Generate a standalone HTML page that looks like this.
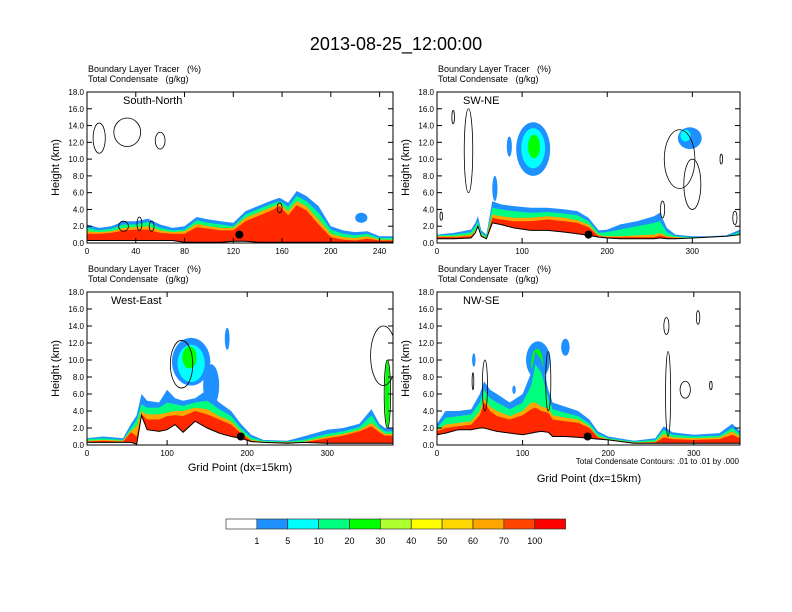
<!DOCTYPE html>
<html><head><meta charset="utf-8"><style>
body{margin:0;background:#fff}
svg{display:block;font-family:"Liberation Sans",Arial,sans-serif}
</style></head><body>
<svg id="c" width="792" height="612" viewBox="0 0 792 612">
<rect width="792" height="612" fill="#fff"/>
<text x="396" y="50" text-anchor="middle" font-size="18">2013-08-25_12:00:00</text>
</svg>
<script>
const C=['#ffffff','#1e90ff','#00ffff','#00ff7f','#00ff00','#adff2f','#ffff00','#ffd700','#ffa500','#ff4500','#ff0000'];
const cbLabels=['1','5','10','20','30','40','50','60','70','100'];
const panelNames=['South-North','SW-NE','West-East','NW-SE'];
const xMax=[251,356,382,354];
const xTicks=[[0,40,80,120,160,200,240],[0,100,200,300],[0,100,200,300],[0,100,200,300]];
const yTicks=[0,2,4,6,8,10,12,14,16,18];
const gx=[
[0,10,20,30,40,50,60,70,80,90,100,110,120,130,140,150,158,165,172,180,190,200,210,220,230,240,251],
[0,20,40,45,48,52,58,65,75,90,110,130,150,165,178,190,200,215,235,255,262,270,280,300,320,340,356],
[0,20,45,55,62,68,75,90,100,110,120,135,150,165,180,192,205,220,250,270,300,320,340,355,365,372,382],
[0,10,25,40,50,55,62,70,85,100,110,115,122,130,135,150,165,178,188,200,230,255,265,275,300,330,345,354]];
const terrain=[
[0.3,0.3,0.3,0.3,0.3,0.3,0.3,0.3,0.1,0.1,0.1,0.1,0.2,0.2,0.1,0.1,0.1,0.1,0.1,0.1,0.1,0.1,0.1,0.1,0.1,0.1,0.1],
[0.5,0.5,0.6,1.2,2.0,0.8,0.5,2.4,2.2,1.8,1.5,1.5,1.3,1.1,0.9,0.7,0.6,0.5,0.5,0.5,0.6,0.5,0.5,0.6,0.7,0.8,1.0],
[0.3,0.3,0.3,0.3,0.1,3.5,1.8,1.6,1.8,2.4,1.5,2.8,2.0,1.4,1.0,0.8,0.4,0.3,0.2,0.3,0.2,0.2,0.2,0.2,0.2,0.2,0.2],
[1.2,1.4,1.8,1.8,2.0,2.0,1.8,1.6,1.4,1.2,1.4,1.5,1.6,1.5,1.0,1.0,0.9,0.8,0.7,0.6,0.2,0.2,0.2,0.2,0.2,0.2,0.2,0.2]];
const lv1=[
[2.2,1.8,2.0,2.6,2.6,2.9,2.2,1.8,2.0,3.1,2.8,2.6,2.4,3.8,4.4,5.0,5.4,4.8,6.2,5.6,4.4,2.0,1.5,1.3,1.4,0.8,0.8],
[1.0,1.2,1.6,2.4,3.2,1.5,1.0,5.0,4.6,4.4,4.2,4.2,4.0,3.8,3.0,1.5,1.6,2.2,2.6,3.2,3.6,1.8,1.0,0.8,0.8,0.9,1.6],
[0.8,1.0,0.8,2.5,3.5,6.0,5.2,5.0,6.5,5.5,5.2,5.5,6.5,5.0,4.0,2.5,1.2,0.6,0.5,1.0,1.8,2.0,2.5,4.2,2.5,2.0,2.0],
[2.5,4.0,4.0,4.2,6.0,7.5,6.5,6.0,5.0,6.0,8.5,11.0,10.0,6.5,5.0,4.5,4.0,3.0,1.6,1.0,0.5,0.8,2.2,1.5,1.2,1.4,2.5,1.6]];
const lv10=[
[1.8,1.5,1.7,2.2,2.2,2.5,1.8,1.5,1.6,2.7,2.4,2.2,2.0,3.4,4.0,4.6,5.0,4.3,5.6,5.0,3.6,1.6,1.1,0.9,1.1,0.6,0.6],
[0.9,1.0,1.3,2.0,2.6,1.2,0.8,4.2,4.0,3.8,3.6,3.7,3.5,3.3,2.6,1.2,1.3,1.6,2.0,2.4,2.6,1.3,0.8,0.7,0.7,0.8,1.3],
[0.7,0.8,0.6,2.0,3.0,4.8,4.4,4.4,5.0,4.8,4.6,5.0,5.2,4.2,3.4,2.0,0.9,0.5,0.4,0.6,1.3,1.6,2.1,3.5,2.1,1.6,1.6],
[2.0,3.2,3.4,3.6,5.0,6.5,5.5,5.0,4.2,5.0,7.0,9.5,8.5,5.5,4.2,3.8,3.4,2.5,1.3,0.8,0.4,0.6,1.8,1.2,1.0,1.1,2.0,1.3]];
const lv40=[
[1.4,1.3,1.4,1.8,1.9,2.0,1.5,1.3,1.4,2.3,2.0,1.8,1.8,3.0,3.6,4.2,4.7,3.8,5.0,4.4,2.8,1.1,0.7,0.6,0.8,0.4,0.4],
[0.8,0.8,1.0,1.5,2.2,1.0,0.6,3.4,3.2,3.0,3.0,3.2,3.0,2.7,2.2,0.9,0.8,0.8,0.9,1.0,1.2,0.8,0.7,0.6,0.6,0.7,1.1],
[0.5,0.6,0.5,1.7,2.2,4.0,3.6,3.6,3.8,4.0,4.0,4.4,4.2,3.4,2.8,1.6,0.6,0.4,0.3,0.4,1.0,1.3,1.8,2.6,1.8,1.3,1.3],
[1.8,2.4,2.6,2.8,4.0,5.5,4.5,4.0,3.4,4.0,5.0,5.0,4.5,4.3,3.5,3.2,3.0,2.2,1.0,0.7,0.3,0.4,1.3,0.9,0.8,0.9,1.6,1.0]];
const lv70=[
[1.1,1.1,1.2,1.5,1.6,1.6,1.2,1.1,1.1,1.9,1.7,1.5,1.5,2.6,3.2,3.8,4.4,3.3,4.5,3.9,2.2,0.7,0.4,0.3,0.5,0.3,0.3],
[0.7,0.7,0.8,1.3,2.0,0.9,0.5,3.0,2.8,2.6,2.6,2.8,2.6,2.4,1.9,0.8,0.7,0.7,0.7,0.7,0.9,0.7,0.6,0.6,0.6,0.6,1.0],
[0.4,0.5,0.4,1.5,1.0,3.6,3.0,3.0,3.4,3.5,3.4,4.0,3.6,3.0,2.4,1.4,0.5,0.3,0.3,0.3,0.8,1.1,1.6,2.2,1.5,1.1,1.1],
[1.6,2.0,2.2,2.4,3.5,5.0,4.0,3.4,3.0,3.5,4.2,4.4,4.0,3.8,3.0,2.8,2.6,2.0,0.9,0.6,0.2,0.3,0.9,0.7,0.6,0.7,1.2,0.8]];
// blobs: [grid, height, rGrid, rHeight, colorIndex]
const blobs=[
[[225,3.0,5,0.6,1]],
[[113,11.2,20,3.2,1],[113,11.3,14,2.4,2],[114,11.5,7,1.4,4],[85,11.5,3,1.2,1],[68,6.5,3,1.5,1],[297,12.5,14,1.3,1],[292,12.8,6,0.7,2]],
[[155,7,10,2.5,1],[130,9.8,24,2.8,1],[130,9.6,17,2.2,2],[128,10.3,9,1.3,4],[175,12.5,3,1.3,1],[375,6,3,4,4]],
[[118,10,14,2.2,1],[117,9.5,7,1.8,4],[43,10,2,0.8,1],[150,11.5,5,1,1],[90,6.5,2,0.5,1]]];
const contours=[
[[10,12.5,5,1.8],[33,13.2,11,1.7],[60,12.2,4,1.0],[30,2.0,4,0.6],[43,2.3,2,0.8],[53,2.0,2,0.6],[158,4.2,2,0.6]],
[[37,11,5,5],[19,15,1.5,0.8],[285,10,18,3.5],[300,7,10,3],[265,4,2.5,1],[350,3,2.5,0.8],[5,3.2,1.5,0.5],[334,10,1.5,0.6]],
[[118,9.5,14,2.8],[370,10.5,16,3.5],[375,6,4,4]],
[[56,7,3,3],[42,7.5,1,1],[130,7.5,3,3.5],[270,6,3,5],[268,14,3,1],[305,15,2,0.8],[290,6.5,6,1],[320,7,1.5,0.5]]];
const dotGrid=[125,178,192,176];
const dotHeight=[1.0,1.0,1.0,1.0];

const NS='http://www.w3.org/2000/svg';
const svg=document.getElementById('c');
function mk(t,a,p){const e=document.createElementNS(NS,t);for(const k in a)e.setAttribute(k,a[k]);(p||svg).appendChild(e);return e;}
const boxes=[[87,92,393,243],[437,92,740,243],[87,292,393,445],[437,292,740,445]];

boxes.forEach((b,i)=>{
  const [L,T,R,B]=b;
  const sx=g=>L+g/xMax[i]*(R-L);
  const sy=h=>B-h/18*(B-T);
  const g=mk('g',{});
  
  
  const cp=mk('clipPath',{id:'cp'+i},g);mk('rect',{x:L,y:T,width:R-L,height:B-T},cp);
  const plot=mk('g',{'clip-path':'url(#cp'+i+')'},g);
  const xs=gx[i];
  function area(top,col,name){
    let d='M'+sx(xs[0])+','+sy(terrain[i][0]);
    xs.forEach((x,k)=>{d+='L'+sx(x).toFixed(1)+','+sy(top[k]).toFixed(1);});
    for(let k=xs.length-1;k>=0;k--)d+='L'+sx(xs[k]).toFixed(1)+','+sy(terrain[i][k]).toFixed(1);
    const p=mk('path',{d:d+'Z',fill:col},plot);
    
    
  }
  blobs[i].forEach(bl=>{
    const e=mk('ellipse',{cx:sx(bl[0]),cy:sy(bl[1]),rx:bl[2]/xMax[i]*(R-L),ry:bl[3]/18*(B-T),fill:C[bl[4]]},plot);
    
    
  });
  area(lv1[i],C[1],'tracer-level-1');
  area(lv10[i],C[3],'tracer-level-10');
  area(lv40[i],C[8],'tracer-level-40');
  area(lv70[i],'#ff2800','tracer-level-70');
  let d='M'+sx(xs[0])+','+sy(terrain[i][0]);
  xs.forEach((x,k)=>{d+='L'+sx(x).toFixed(1)+','+sy(terrain[i][k]).toFixed(1);});
  const tf=mk('path',{d:d+'L'+R+','+B+'L'+L+','+B+'Z',fill:'#fff',stroke:'#000','stroke-width':1},plot);
  
  
  contours[i].forEach(c=>{
    const e=mk('ellipse',{cx:sx(c[0]),cy:sy(c[1]),rx:c[2]/xMax[i]*(R-L),ry:c[3]/18*(B-T),fill:'none',stroke:'#000','stroke-width':0.8},plot);
    
    
  });
  const dot=mk('circle',{cx:sx(dotGrid[i]),cy:sy(dotHeight[i]),r:4,fill:'#000'},g);
  
  
  const fr=mk('rect',{x:L,y:T,width:R-L,height:B-T,fill:'none',stroke:'#000','stroke-width':1},g);
  
  
  yTicks.forEach(v=>{
    const y=sy(v);
    mk('line',{x1:L,x2:L+5,y1:y,y2:y,stroke:'#000'},g);
    mk('line',{x1:R,x2:R-5,y1:y,y2:y,stroke:'#000'},g);
    const t=mk('text',{x:L-3,y:y+3,'text-anchor':'end','font-size':8},g);
    t.textContent=v.toFixed(1);
    
    
  });
  xTicks[i].forEach(v=>{
    const x=sx(v);
    mk('line',{x1:x,x2:x,y1:B,y2:B-5,stroke:'#000'},g);
    mk('line',{x1:x,x2:x,y1:T,y2:T+5,stroke:'#000'},g);
    const t=mk('text',{x:x,y:B+11,'text-anchor':'middle','font-size':8},g);
    t.textContent=v;
    
    
  });
  const nm=mk('text',{x:L+(i==0?36:i==2?24:26),y:T+12,'font-size':11},g);
  nm.textContent=panelNames[i];
  
  
  const t1=mk('text',{x:L+1,y:T-20,'font-size':9},g);
  t1.textContent='Boundary Layer Tracer\u00a0\u00a0\u00a0(%)';
  
  
  const t2=mk('text',{x:L+1,y:T-10,'font-size':9},g);
  t2.textContent='Total Condensate\u00a0\u00a0\u00a0(g/kg)';
  
  
  const yt=mk('text',{x:0,y:0,'font-size':11,'text-anchor':'middle',transform:'translate('+(L-28)+','+((T+B)/2)+') rotate(-90)'},g);
  yt.textContent='Height (km)';
  
  
});
const xt1=mk('text',{x:240,y:471,'text-anchor':'middle','font-size':11});
xt1.textContent='Grid Point (dx=15km)';


const xt2=mk('text',{x:589,y:482,'text-anchor':'middle','font-size':11});
xt2.textContent='Grid Point (dx=15km)';


const ci=mk('text',{x:739,y:464,'text-anchor':'end','font-size':8});
ci.textContent='Total Condensate Contours: .01 to .01 by .000';


const cbx=226,cbw=28.3;
const cbCols=['#ffffff','#1e90ff','#00ffff','#00ff7f','#00ff00','#adff2f','#ffff00','#ffd700','#ffa500','#ff4500','#ff0000','#ff0000'];
for(let k=0;k<11;k++){
  const r=mk('rect',{x:cbx+k*cbw*12/11,y:519,width:cbw*12/11,height:10,fill:cbCols[k],stroke:'#333','stroke-width':0.7});
  
  
}
cbLabels.forEach((l,k)=>{
  const t=mk('text',{x:cbx+(k+1)*cbw*12/11,y:544,'text-anchor':'middle','font-size':9});
  t.textContent=l;
  
  
});
</script>
</body></html>
